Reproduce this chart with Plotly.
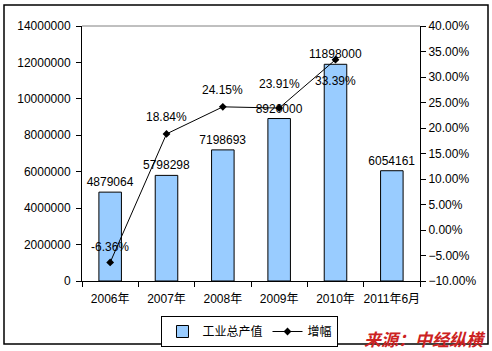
import plotly.graph_objects as go

categories = ["2006年", "2007年", "2008年", "2009年", "2010年", "2011年6月"]
output_values = [4879064, 5798298, 7198693, 8920000, 11898000, 6054161]
growth_categories = ["2006年", "2007年", "2008年", "2009年", "2010年"]
growth_values = [-0.0636, 0.1884, 0.2415, 0.2391, 0.3339]
growth_labels = ["-6.36%", "18.84%", "24.15%", "23.91%", "33.39%"]
growth_label_shift = [15, 17, 17, 24, -21]

FONT = "Liberation Sans, Arial, Noto Sans CJK SC, sans-serif"

fig = go.Figure()
fig.add_trace(go.Bar(
    x=categories, y=output_values, name="工业总产值",
    marker=dict(color="#99CCFF", line=dict(color="black", width=1)),
    text=[str(v) for v in output_values], textposition="outside",
    constraintext="none",
    textfont=dict(size=12, color="black", family=FONT),
    cliponaxis=False,
))
fig.add_trace(go.Scatter(
    x=growth_categories, y=growth_values, name="增幅", yaxis="y2",
    mode="lines+markers",
    line=dict(color="black", width=1),
    marker=dict(symbol="diamond", size=6, color="black"),
    cliponaxis=False,
))

annotations = [
    dict(text=lab, x=c, y=v, xref="x", yref="y2", yshift=s, showarrow=False,
         xanchor="center", yanchor="middle", font=dict(size=12, color="black", family=FONT))
    for c, v, lab, s in zip(growth_categories, growth_values, growth_labels, growth_label_shift)
]
annotations.append(
    dict(text="<b><i>来源：中经纵横</i></b>", xref="paper", yref="paper",
         x=(488 - 82) / 338, xanchor="right", y=(281 - 338) / 255, yanchor="middle",
         showarrow=False,
         font=dict(size=17, color="#CC2222", family="Noto Sans CJK SC, sans-serif"))
)

fig.update_layout(
    width=492, height=351,
    margin=dict(l=82, r=72, t=26, b=70, autoexpand=False),
    paper_bgcolor="white", plot_bgcolor="white",
    font=dict(family=FONT, size=12, color="black"),
    bargap=0.6,
    showlegend=True,
    legend=dict(orientation="h", x=0.497, xanchor="center", y=(281 - 316) / 255, yanchor="top",
                bordercolor="black", borderwidth=1, font=dict(size=12),
                itemwidth=30, tracegroupgap=0),
    xaxis=dict(type="category", showline=True, linecolor="black", linewidth=1,
               ticks="outside", ticklen=5, tickcolor="black", tickson="boundaries",
               tickangle=0, automargin=False, ticklabelstandoff=7,
               showgrid=False, tickfont=dict(size=12)),
    yaxis=dict(range=[0, 14000000], dtick=2000000, tickformat="d",
               showline=True, linecolor="black", linewidth=1,
               ticks="outside", ticklen=5, tickcolor="black", automargin=False,
               ticklabelstandoff=3,
               showgrid=False, zeroline=False, tickfont=dict(size=12)),
    yaxis2=dict(range=[-0.10, 0.40], dtick=0.05, tickformat=".2%",
                overlaying="y", side="right", automargin=False,
                showline=True, linecolor="black", linewidth=1,
                ticks="outside", ticklen=5, tickcolor="black",
                showgrid=False, zeroline=False, tickfont=dict(size=12)),
    shapes=[
        dict(type="line", xref="paper", yref="paper", x0=0, x1=1, y0=1, y1=1,
             line=dict(color="#808080", width=1)),
        dict(type="rect", xref="paper", yref="paper",
             x0=(4 - 82) / 338, x1=(488 - 82) / 338,
             y0=(281 - 344) / 255, y1=(281 - 5) / 255,
             line=dict(color="black", width=1.5)),
    ],
    annotations=annotations,
)

fig.write_html("out.html")
